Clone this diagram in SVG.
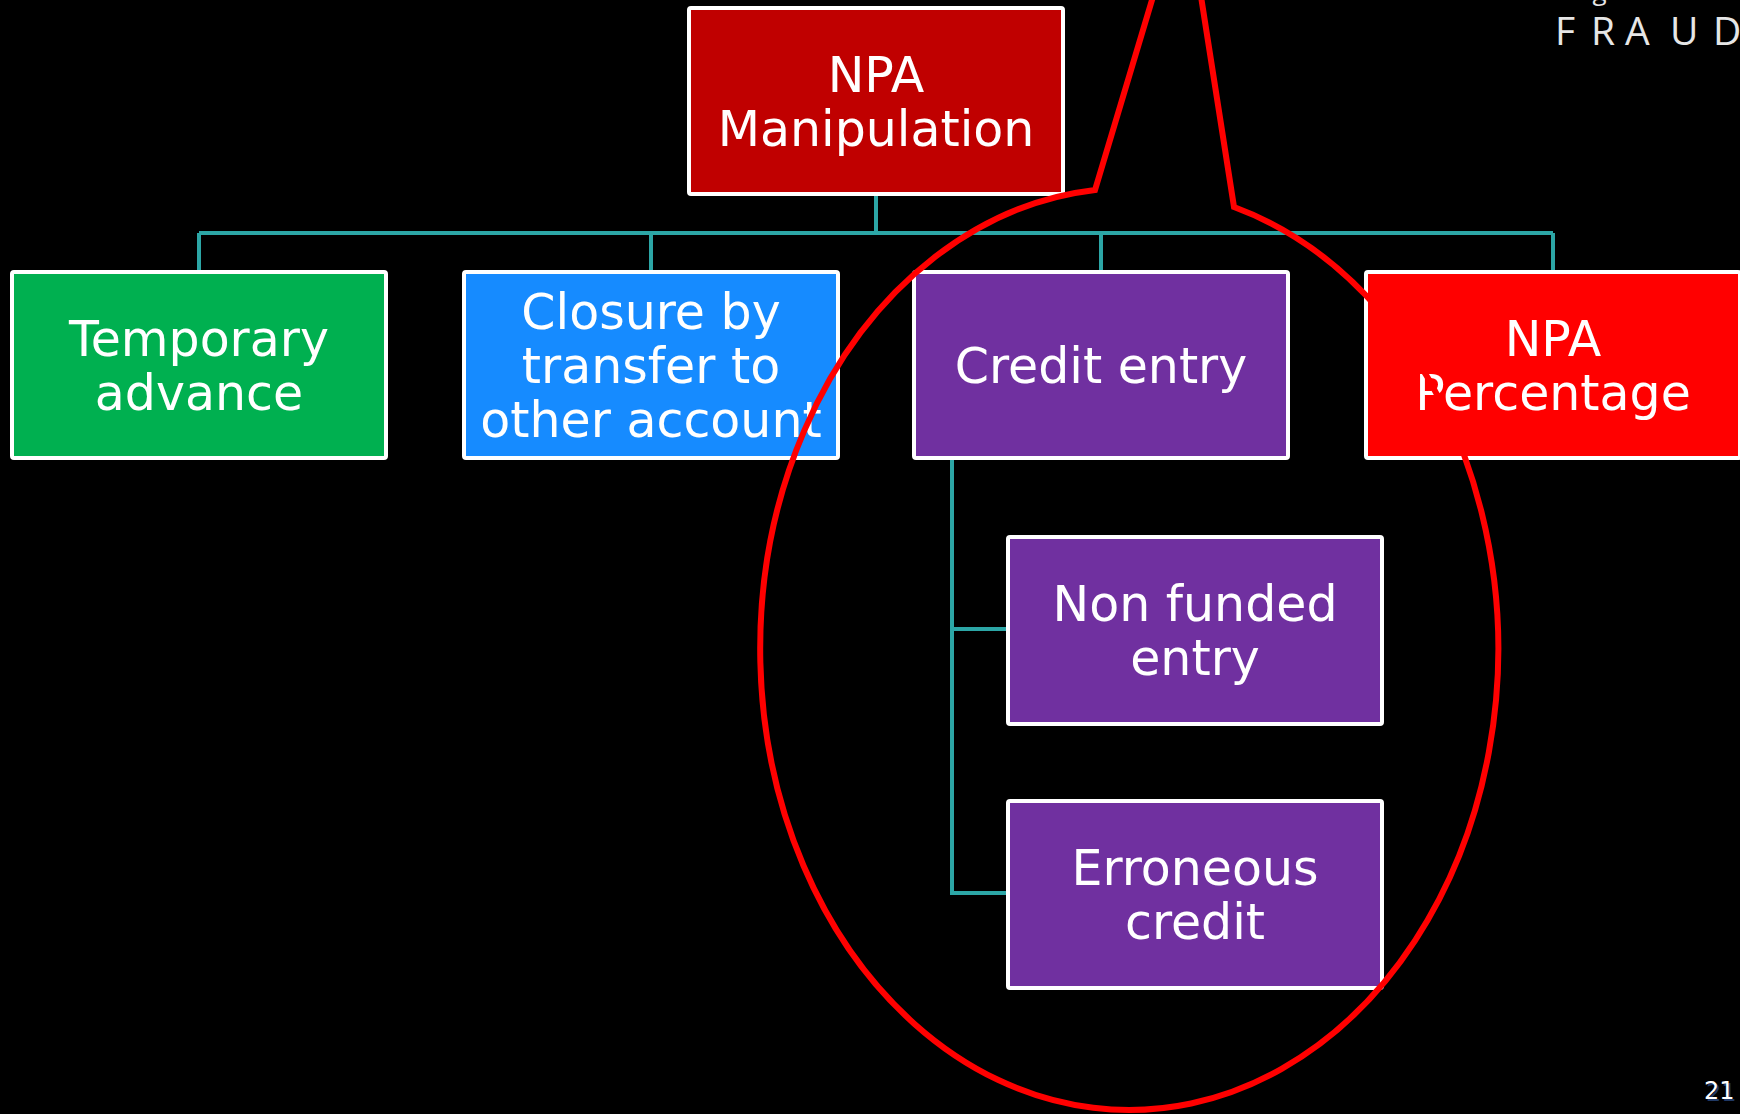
<svg xmlns="http://www.w3.org/2000/svg" width="1740" height="1114" viewBox="0 0 1740 1114">
<style>
.box{stroke:#ffffff;stroke-width:4}
.lbl{font-family:"DejaVu Sans",Verdana,sans-serif;font-size:49px;fill:#ffffff;text-anchor:middle}
.conn{fill:none;stroke:#2ca6a6;stroke-width:4}
</style>
<rect x="0" y="0" width="1740" height="1114" fill="#000000"/>
<text x="1507" y="0" font-family="'Open Sans','DejaVu Sans',sans-serif" font-size="26" fill="#e6e6e6">Pointing a Fraud</text>
<text x="1555 1591 1625 1670 1713" y="45" font-family="'Open Sans','DejaVu Sans',sans-serif" font-size="39" fill="#e6e6e6">FRAUD</text>
<g id="connectors">
<path class="conn" d="M876,194 V233 M199,233 H1553 M199,233 V272 M651,233 V272 M1101,233 V272 M1553,233 V272"/>
<path class="conn" d="M952,458 V893 H1008 M952,629 H1008"/>
</g>
<g id="npa-manipulation">
<rect class="box" x="689" y="8" width="374" height="186" rx="2" fill="#c00000"/>
<text class="lbl" x="876" y="91.5">NPA</text>
<text class="lbl" x="876" y="145.5">Manipulation</text>
</g>
<g id="temporary-advance">
<rect class="box" x="12" y="272" width="374" height="186" rx="2" fill="#00b050"/>
<text class="lbl" x="199" y="355.5">Temporary</text>
<text class="lbl" x="199" y="409.5">advance</text>
</g>
<g id="closure-by-transfer">
<rect class="box" x="464" y="272" width="374" height="186" rx="2" fill="#168bff"/>
<text class="lbl" x="651" y="328.5">Closure by</text>
<text class="lbl" x="651" y="382.5">transfer to</text>
<text class="lbl" x="651" y="436.5">other account</text>
</g>
<g id="credit-entry">
<rect class="box" x="914" y="272" width="374" height="186" rx="2" fill="#7030a0"/>
<text class="lbl" x="1101" y="382.5">Credit entry</text>
</g>
<g id="npa-percentage">
<rect class="box" x="1366" y="272" width="374" height="186" rx="2" fill="#ff0000"/>
<text class="lbl" x="1553" y="355.5">NPA</text>
<text class="lbl" x="1553" y="409.5">Percentage</text>
</g>
<g id="non-funded-entry">
<rect class="box" x="1008" y="537" width="374" height="187" rx="2" fill="#7030a0"/>
<text class="lbl" x="1195" y="621">Non funded</text>
<text class="lbl" x="1195" y="675">entry</text>
</g>
<g id="erroneous-credit">
<rect class="box" x="1008" y="801" width="374" height="187" rx="2" fill="#7030a0"/>
<text class="lbl" x="1195" y="885">Erroneous</text>
<text class="lbl" x="1195" y="939">credit</text>
</g>
<g id="callout">
<path d="M1234,207 A369,461 0 1 1 1095,190 L1155,-10 L1200,-10 Z" fill="none" stroke="#ff0000" stroke-width="6" stroke-linejoin="miter"/>
</g>
<text x="1706" y="1101" font-family="'DejaVu Sans',Verdana,sans-serif" font-size="24" fill="#1f3864">21</text>
<text x="1704" y="1099" font-family="'DejaVu Sans',Verdana,sans-serif" font-size="24" fill="#ffffff">21</text>
</svg>
